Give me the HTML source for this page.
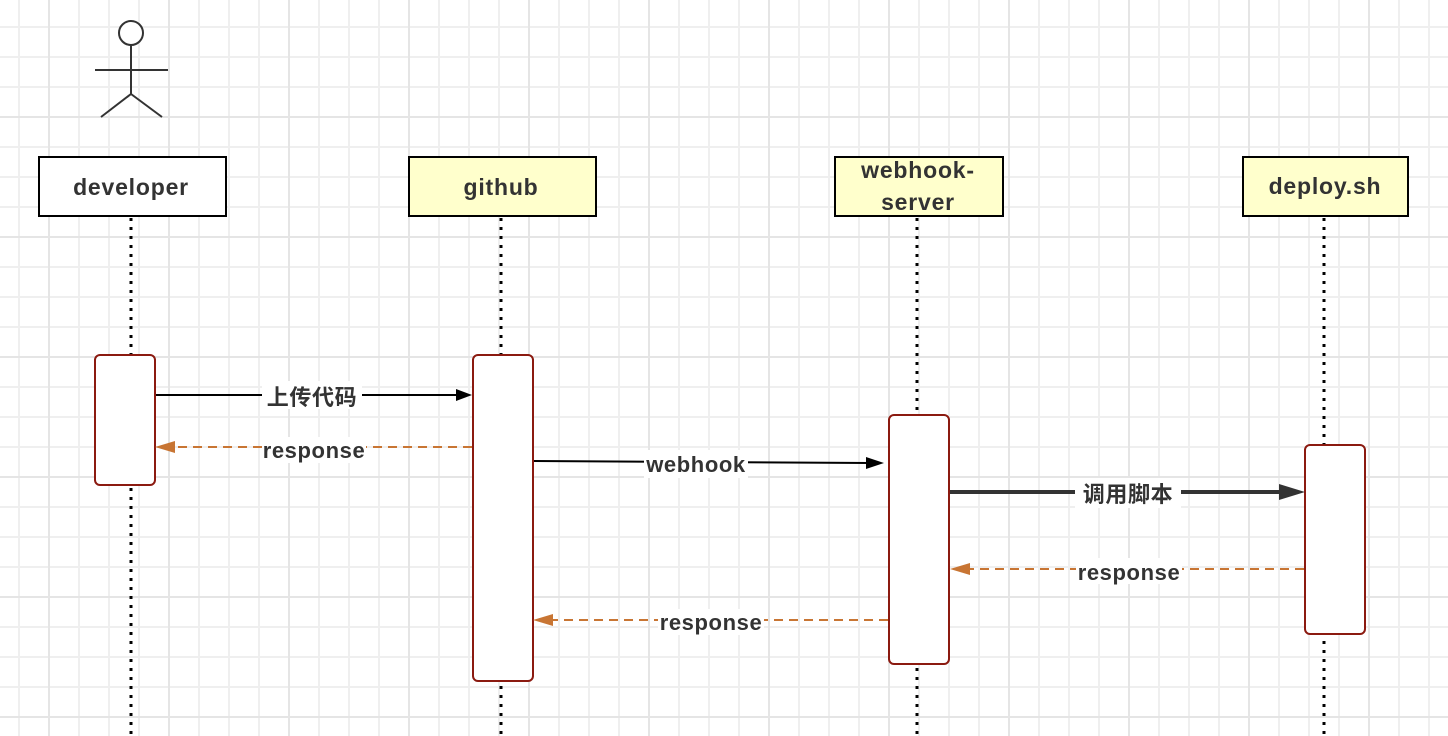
<!DOCTYPE html>
<html><head><meta charset="utf-8"><style>
html,body{margin:0;padding:0;background:#fff;}
svg{display:block;}
text{font-family:"Liberation Sans","Noto Sans CJK SC",sans-serif;fill:#333;font-weight:bold;}
</style></head><body>
<svg width="1448" height="736" viewBox="0 0 1448 736" xmlns="http://www.w3.org/2000/svg">
<defs>
<pattern id="minor" width="30" height="30" patternUnits="userSpaceOnUse" x="18" y="-4">
<path d="M0 1H30M1 0V30" stroke="#efefef" stroke-width="2" fill="none"/>
</pattern>
<pattern id="major" width="120" height="120" patternUnits="userSpaceOnUse" x="48" y="116">
<path d="M0 1H120M1 0V120" stroke="#e5e5e5" stroke-width="2" fill="none"/>
</pattern>
</defs>
<rect width="1448" height="736" fill="url(#minor)"/>
<rect width="1448" height="736" fill="url(#major)"/>

<g stroke="#333" stroke-width="2" fill="#fff">
<circle cx="131" cy="33" r="12"/>
<line x1="131" y1="45" x2="131" y2="94"/>
<line x1="95" y1="70" x2="168" y2="70"/>
<line x1="131" y1="94" x2="101" y2="117"/>
<line x1="131" y1="94" x2="162" y2="117"/>
</g>

<g stroke="#000" stroke-width="3" stroke-dasharray="3 6">
<line x1="131" y1="218" x2="131" y2="736"/>
<line x1="501" y1="218" x2="501" y2="736"/>
<line x1="917" y1="218" x2="917" y2="736"/>
<line x1="1324" y1="218" x2="1324" y2="736"/>
</g>

<g stroke="#000" stroke-width="2">
<rect x="39" y="157" width="187" height="59" fill="#fff"/>
<rect x="409" y="157" width="187" height="59" fill="#ffffcc"/>
<rect x="835" y="157" width="168" height="59" fill="#ffffcc"/>
<rect x="1243" y="157" width="165" height="59" fill="#ffffcc"/>
</g>
<g font-size="23" text-anchor="middle" letter-spacing="0.8">
<text x="131" y="195">developer</text>
<text x="501" y="195">github</text>
<text x="918" y="178">webhook-</text>
<text x="918" y="210">server</text>
<text x="1325" y="194">deploy.sh</text>
</g>

<g stroke="#8b1a10" stroke-width="2" fill="#fff">
<rect x="95" y="355" width="60" height="130" rx="5"/>
<rect x="473" y="355" width="60" height="326" rx="5"/>
<rect x="889" y="415" width="60" height="249" rx="5"/>
<rect x="1305" y="445" width="60" height="189" rx="5"/>
</g>

<g font-size="22" text-anchor="middle" letter-spacing="0.6">
<line x1="156" y1="395" x2="458" y2="395" stroke="#000" stroke-width="2"/>
<polygon points="472,395 456,389 456,401" fill="#000"/>
<rect x="262" y="381" width="100" height="28" fill="#fff"/>
<text x="312" y="405">上传代码</text>

<line x1="472" y1="447" x2="170" y2="447" stroke="#c87533" stroke-width="2" stroke-dasharray="9 6"/>
<polygon points="155,447 175,441 175,453" fill="#c87533"/>
<rect x="262" y="437" width="104" height="26" fill="#fff"/>
<text x="314" y="458">response</text>

<line x1="534" y1="461" x2="870" y2="463" stroke="#000" stroke-width="2"/>
<polygon points="884,463 866,457 866,469" fill="#000"/>
<rect x="644" y="450" width="104" height="28" fill="#fff"/>
<text x="696" y="472">webhook</text>

<line x1="950" y1="492" x2="1285" y2="492" stroke="#333" stroke-width="4"/>
<polygon points="1305,492 1279,484 1279,500" fill="#333"/>
<rect x="1075" y="478" width="106" height="30" fill="#fff"/>
<text x="1128" y="502">调用脚本</text>

<line x1="1304" y1="569" x2="965" y2="569" stroke="#c87533" stroke-width="2" stroke-dasharray="9 6"/>
<polygon points="950,569 970,563 970,575" fill="#c87533"/>
<rect x="1076" y="558" width="106" height="26" fill="#fff"/>
<text x="1129" y="580">response</text>

<line x1="888" y1="620" x2="548" y2="620" stroke="#c87533" stroke-width="2" stroke-dasharray="9 6"/>
<polygon points="533,620 553,614 553,626" fill="#c87533"/>
<rect x="658" y="609" width="106" height="26" fill="#fff"/>
<text x="711" y="630">response</text>
</g>
</svg>
</body></html>
